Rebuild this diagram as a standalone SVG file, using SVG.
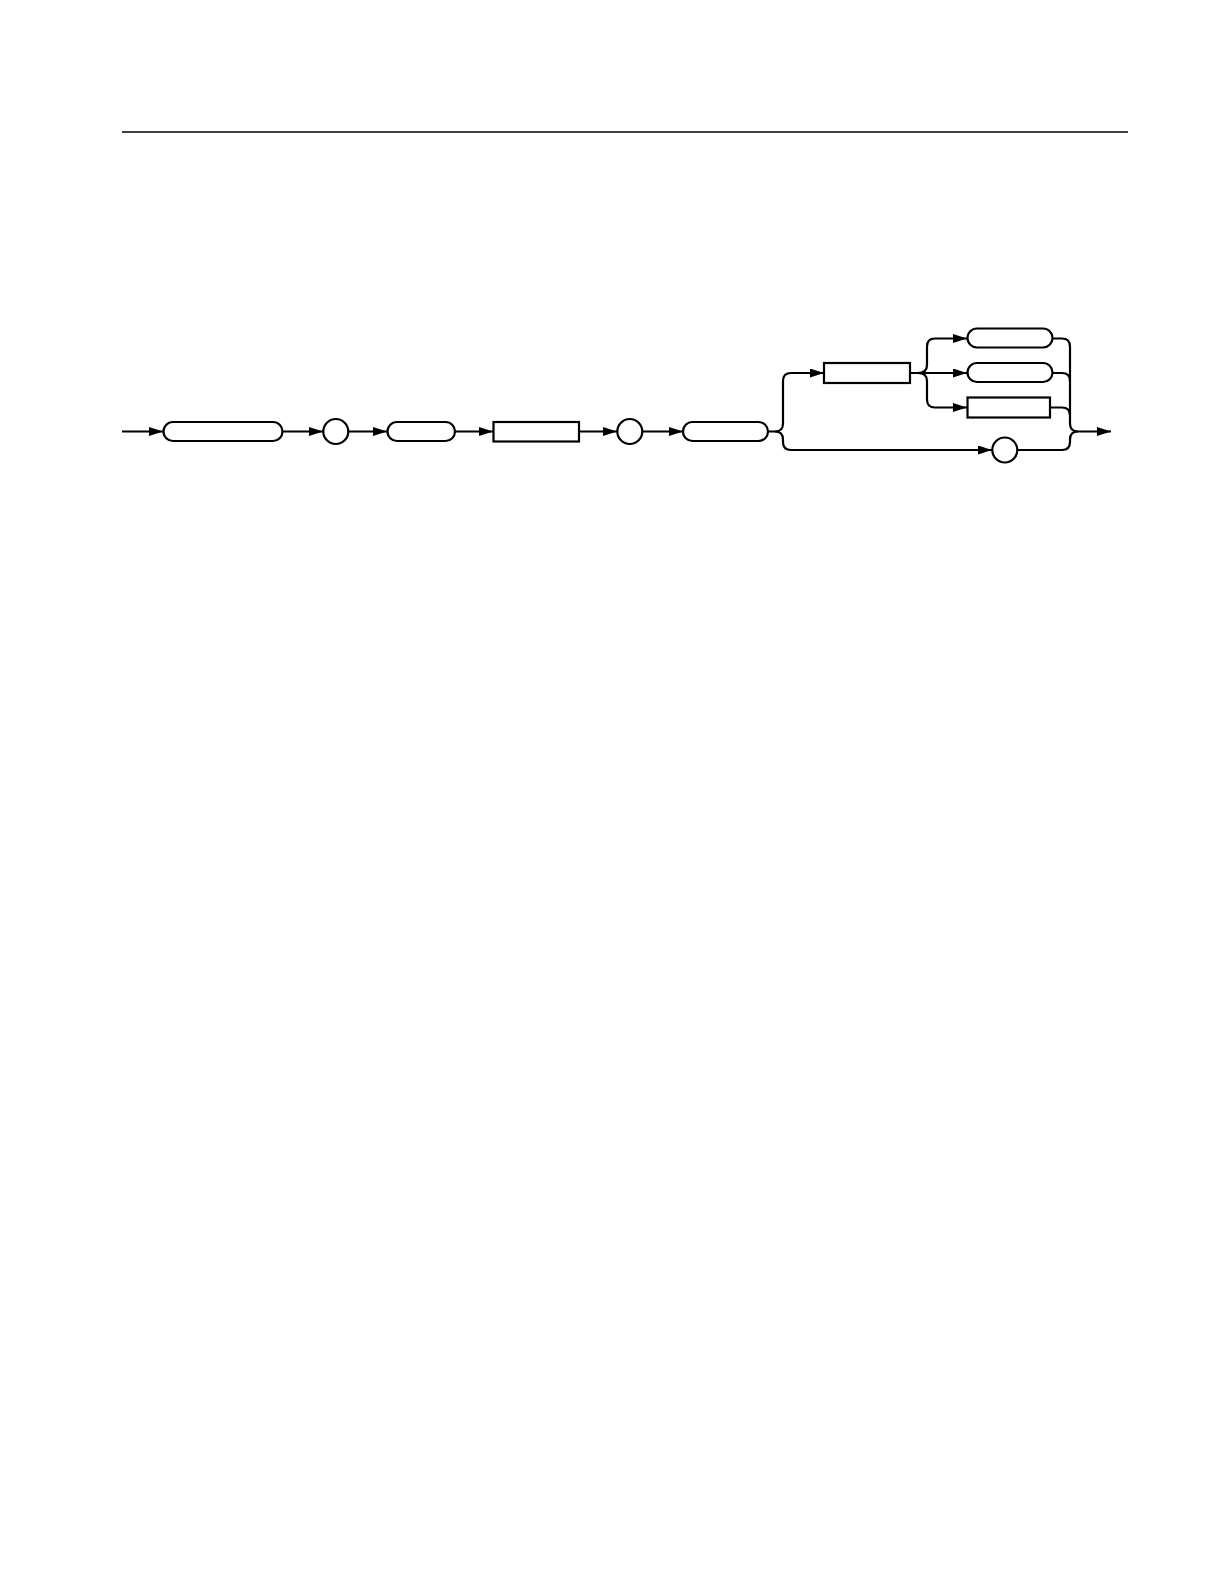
<svg xmlns="http://www.w3.org/2000/svg" width="1224" height="1584" viewBox="0 0 1224 1584">
<style>
.n{fill:#fff;stroke:#000;stroke-width:2.2}
.c{fill:none;stroke:#000;stroke-width:2.2}
</style>
<defs>
<marker id="ah" markerUnits="userSpaceOnUse" markerWidth="16" markerHeight="10" refX="14" refY="4.5" orient="auto"><path d="M0,0 L14,4.5 L0,9 Z" fill="#000"/></marker>
</defs>
<rect width="1224" height="1584" fill="#fff"/>
<line x1="122" y1="132" x2="1128" y2="132" stroke="#000" stroke-width="1.6"/>
<g id="connectors">
<path class="c" d="M122 431.5 H163" marker-end="url(#ah)"/>
<path class="c" d="M283 431.5 H323" marker-end="url(#ah)"/>
<path class="c" d="M348 431.5 H387" marker-end="url(#ah)"/>
<path class="c" d="M455 431.5 H493" marker-end="url(#ah)"/>
<path class="c" d="M579 431.5 H617" marker-end="url(#ah)"/>
<path class="c" d="M642 431.5 H683" marker-end="url(#ah)"/>
<path class="c" d="M768 431.5 H775 Q783 431.5 783 423.5 V381 Q783 373 791 373 H824" marker-end="url(#ah)"/>
<path class="c" d="M775 431.5 Q783 431.5 783 439.5 V442 Q783 450 791 450 H992" marker-end="url(#ah)"/>
<path class="c" d="M910 373 H918 Q927 373 927 365 V346.5 Q927 338.5 935 338.5 H967" marker-end="url(#ah)"/>
<path class="c" d="M918 373 H967" marker-end="url(#ah)"/>
<path class="c" d="M918 373 Q927 373 927 381 V399.5 Q927 407.5 935 407.5 H967" marker-end="url(#ah)"/>
<path class="c" d="M1052 338.5 H1062 Q1070 338.5 1070 346.5 V423.5 Q1070 431.5 1078 431.5 H1111" marker-end="url(#ah)"/>
<path class="c" d="M1052 373 H1062 Q1070 373 1070 381"/>
<path class="c" d="M1050 407.5 H1062 Q1070 407.5 1070 415.5"/>
<path class="c" d="M1017 450 H1062 Q1070 450 1070 442 V439.5 Q1070 431.5 1078 431.5"/>
</g>
<g id="node1"><rect class="n" x="163.5" y="422" width="119" height="19" rx="9.5"/></g>
<g id="node2"><circle class="n" cx="335.8" cy="431.5" r="12.5"/></g>
<g id="node3"><rect class="n" x="387.5" y="422" width="67.5" height="19" rx="9.5"/></g>
<g id="node4"><rect class="n" x="493.5" y="422" width="85.5" height="19.5"/></g>
<g id="node5"><circle class="n" cx="629.8" cy="431.5" r="12.5"/></g>
<g id="node6"><rect class="n" x="683" y="422" width="85" height="19" rx="9.5"/></g>
<g id="node7"><rect class="n" x="824" y="363" width="86" height="20"/></g>
<g id="node8"><rect class="n" x="967.5" y="328.5" width="85" height="19" rx="9.5"/></g>
<g id="node9"><rect class="n" x="967.5" y="363" width="85" height="19" rx="9.5"/></g>
<g id="node10"><rect class="n" x="967.5" y="397.5" width="82.5" height="20"/></g>
<g id="node11"><circle class="n" cx="1004.8" cy="450" r="12.5"/></g>
</svg>
